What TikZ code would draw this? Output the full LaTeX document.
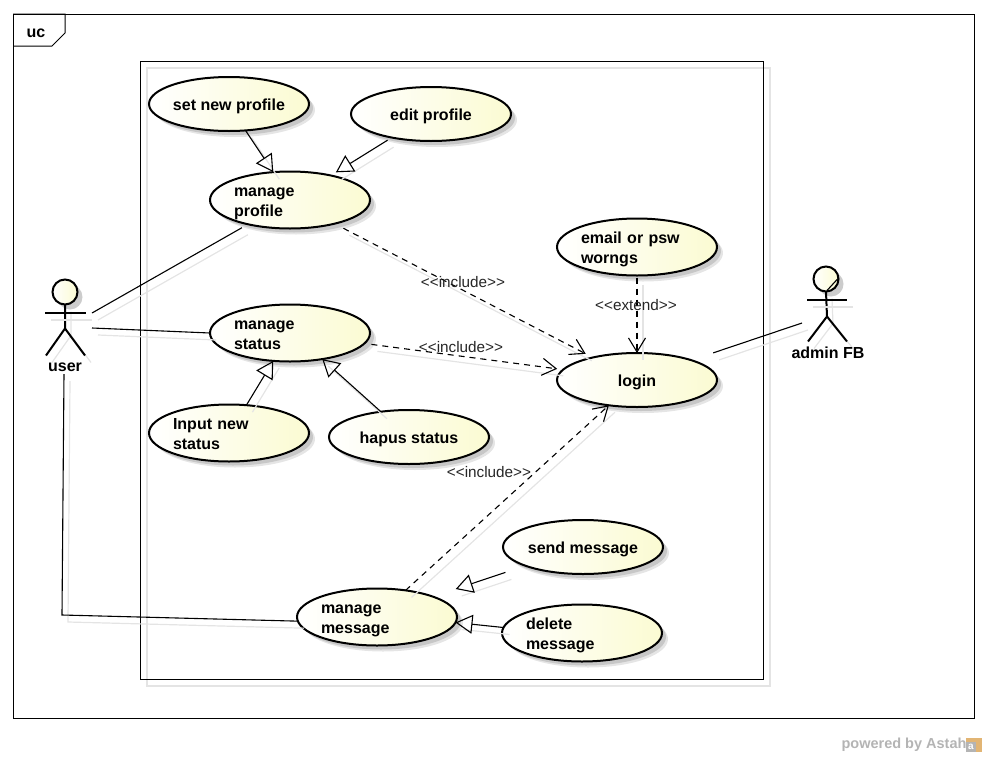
\documentclass[tikz,border=0pt]{standalone}
\usepackage{fontspec}
\setmainfont{Liberation Sans}
\usetikzlibrary{shapes.geometric, arrows.meta, shadows}
\definecolor{ucyellow}{HTML}{FBFBD2}
\definecolor{ucghost}{HTML}{E4E4E4}
\definecolor{ucmark}{HTML}{B4B4B4}
\definecolor{ucicon}{HTML}{E2B574}
\tikzset{
	usecase/.style={ellipse, draw, line width=2pt, minimum width=160pt, minimum height=54pt,
		inner sep=0pt, outer sep=0pt, left color=white, right color=ucyellow,
		general shadow={shadow xshift=6pt, shadow yshift=-6pt, fill=black!10},
		general shadow={shadow xshift=4pt, shadow yshift=-4pt, fill=black!22},
		text height=12pt, text depth=-2pt,
		font=\fontsize{16}{20}\selectfont\bfseries},
	twolines/.style={text width=112pt, align=left, minimum height=57pt, text depth=20pt},
	ghost/.style={preaction={draw=ucghost, solid, arrows=-, line width=1.2pt,
		transform canvas={xshift=6pt, yshift=-7pt}}},
	assoc/.style={line width=1.1pt, ghost},
	general/.style={line width=1.1pt, ghost, -{Triangle[open, length=17pt, width=19pt]}},
	depend/.style={line width=1.1pt, ghost, dash pattern=on 6pt off 5pt,
		-{Straight Barb[length=14pt, width=17pt]}},
	stereo/.style={font=\fontsize{15.3}{18}\selectfont, text=black!85},
	actorhead/.style={circle, draw, line width=2pt, minimum size=25pt, inner sep=0pt, outer sep=0pt,
		left color=white, right color=ucyellow,
		general shadow={shadow xshift=5pt, shadow yshift=-5pt, fill=black!20}},
	actorline/.style={line width=2pt, ghost},
	actorname/.style={font=\fontsize{16}{20}\selectfont\bfseries}
}
\begin{document}
\begin{tikzpicture}[x=1pt, y=-1pt]
	\useasboundingbox (0,0) rectangle (986,758);
	\draw[line width=1pt] (13,14) rectangle (974,718);
	\draw[line width=1pt] (13,14) -- (65,14) -- (65,33) -- (52,46) -- (13,46);
	\draw (36,33) node[actorname] (frametag) {uc};
	\draw[ucghost, line width=1.2pt] (147,68) rectangle (770,686);
	\draw[line width=1pt] (140,61) rectangle (763,679);

	\draw (229,104) node[usecase] (setprofile) {set new profile};
	\draw (431,114) node[usecase] (editprofile) {edit profile};
	\draw (290,200) node[usecase, twolines] (manageprofile) {manage\\profile};
	\draw (637,247) node[usecase, twolines] (wronglogin) {email or psw\\worngs};
	\draw (290,333) node[usecase, twolines] (managestatus) {manage\\status};
	\draw (637,380) node[usecase] (login) {login};
	\draw (229,433) node[usecase, twolines] (inputstatus) {Input new\\status};
	\draw (409,437) node[usecase] (hapusstatus) {hapus status};
	\draw (583,547) node[usecase] (sendmessage) {send message};
	\draw (377,617) node[usecase, twolines] (managemessage) {manage\\message};
	\draw (582,633) node[usecase, twolines] (deletemessage) {delete\\message};

	\draw (65,292) node[actorhead] (userhead) {};
	\draw[actorline] (userhead.south) -- ++(0,24) coordinate (userwaist) -- ++(-19,27);
	\draw[actorline] (userwaist) -- ++(20,27);
	\draw[actorline] (userhead.south) ++(-20,8.5) -- ++(41,0);
	\draw (65,367) node[actorname] (username) {user};
	\coordinate (userupper) at (92,313);
	\coordinate (userlower) at (92,328);
	\coordinate (userfoot) at (64,374);

	\draw (826,279) node[actorhead] (adminhead) {};
	\draw[actorline] (adminhead.south) -- ++(1,25) coordinate (adminwaist) -- ++(-19,25);
	\draw[actorline] (adminwaist) -- ++(20,25);
	\draw[actorline] (adminhead.south) ++(-19,8.5) -- ++(40,0);
	\draw[line width=1.1pt] (adminhead.south) ++(1,-1) -- ++(11,-12);
	\draw (828,353) node[actorname] (adminname) {admin FB};
	\coordinate (adminhand) at (802,323);

	\draw[assoc, shorten >=7pt] (userupper) -- (manageprofile.-150.8);
	\draw[assoc] (userlower) -- (managestatus.west);
	\draw[assoc] (userfoot) -- (62,615) -- (managemessage.183);
	\draw[assoc, shorten <=23pt] (login.20) -- (adminhand);

	\draw[general] (setprofile.-58) -- (manageprofile.121);
	\draw[general, shorten <=5pt, shorten >=6pt] (editprofile.-149) -- (manageprofile.31);
	\draw[general] (inputstatus.58) -- (managestatus.-121);
	\draw[general] (hapusstatus.138) -- (managestatus.-39);
	\draw[general, shorten <=21pt, shorten >=24pt] (sendmessage.-162) -- (managemessage.20);
	\draw[general] (deletemessage.176) -- (managemessage.-4);

	\draw[depend, shorten <=10pt, shorten >=8pt] (manageprofile.-28) -- (login.153);
	\draw[depend, shorten <=7pt, shorten >=6pt] (managestatus.-8) -- (login.172);
	\draw[depend, shorten <=2pt] (wronglogin.south) -- (login.north);
	\draw[depend] (managemessage.43) -- (login.-138);

	\draw (463,282) node[stereo] (includeprofile) {<{}<include>{}>};
	\draw (461,347) node[stereo] (includestatus) {<{}<include>{}>};
	\draw (489,472) node[stereo] (includemessage) {<{}<include>{}>};
	\draw (636,305) node[stereo] (extendlogin) {<{}<extend>{}>};

	\draw (904,745) node[text=ucmark, font=\fontsize{14.5}{18}\selectfont\bfseries] (poweredby) {powered by Astah};
	\fill[ucicon] (966,738) rectangle (982,752);
	\draw (971,747) node[fill=ucmark, text=white, inner sep=0.5pt, minimum size=10pt, font=\fontsize{10}{10}\selectfont\bfseries] (astahicon) {a};
\end{tikzpicture}
\end{document}
